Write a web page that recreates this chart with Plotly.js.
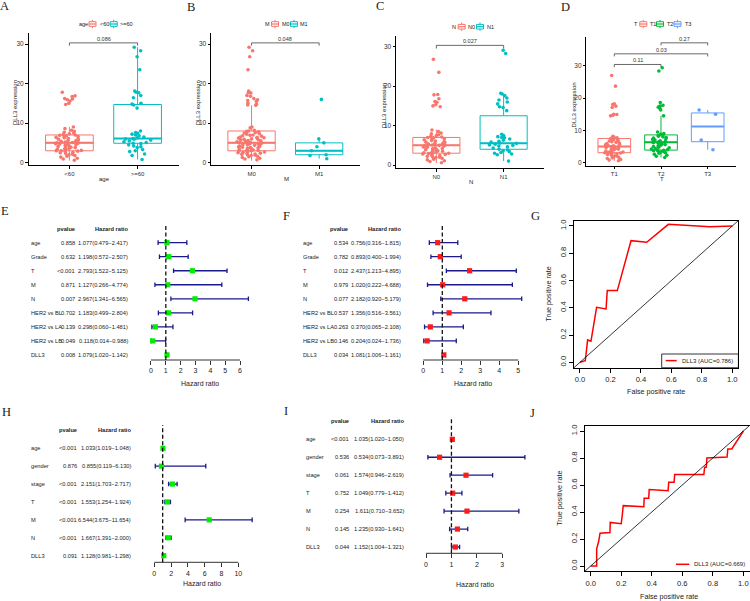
<!DOCTYPE html>
<html><head><meta charset="utf-8">
<script src="https://cdn.plot.ly/plotly-3.0.1.min.js"></script>
<style>html,body{margin:0;padding:0;background:#fff}#chart{width:750px;height:601px}</style>
</head><body><div id="chart"></div>
<script>
// ================= DATA =================
// Panel A: DLL3 expression by age
const ageCats = ['<60', '>=60'];
const ageLt60 = [16.1,15.9,16.7,16.2,17.8,16.9,15.0,15.6,14.7,
  9.0,8.6,8.2,7.9,7.7,7.5,7.3,7.1,7.0,6.9,6.8,6.6,6.5,6.4,6.3,6.1,6.0,5.9,5.8,5.6,5.5,5.4,5.2,5.1,5.0,5.0,
  4.9,4.8,4.7,4.6,4.5,4.4,4.2,4.1,4.0,3.9,3.8,3.6,3.5,3.4,3.3,3.1,3.0,3.0,2.9,2.8,2.6,2.5,2.3,2.1,2.0,1.8,1.6,1.4,1.1,0.9,0.6];
const ageGe60 = [29.2,28.3,26.8,23.5,18.1,17.8,17.7,17.0,16.4,15.0,14.8,14.6,13.8,8.0,7.6,7.4,7.2,7.0,6.8,6.5,6.3,6.1,6.0,5.9,
  5.7,5.5,5.3,5.1,4.9,4.8,4.5,4.2,4.0,3.8,3.3,3.0,2.8,2.2,1.8,0.8];
const ageQ1 = [3.0, 4.9], ageMed = [5.0, 6.1], ageQ3 = [7.0, 14.7], ageLo = [0.5, 0.8], ageHi = [9.0, 29.2];
const ageLegendTitle = 'age';
const agePval = '0.086';

// Panel B: by M
const mCats = ['M0', 'M1'];
const mM0 = [29.2,28.3,26.8,23.5,18.1,17.8,17.7,17.6,17.0,16.8,16.2,15.9,15.7,15.5,15.0,14.8,14.6,14.5,
  9.0,8.8,8.2,8.0,7.9,7.8,7.6,7.5,7.3,7.2,7.0,6.9,6.8,6.7,6.5,6.4,6.3,6.2,6.1,6.0,5.9,5.8,5.7,5.6,5.5,5.4,5.3,5.2,5.1,5.0,5.0,
  4.9,4.8,4.7,4.6,4.5,4.4,4.3,4.2,4.1,4.0,3.9,3.8,3.7,3.6,3.5,3.4,3.3,3.2,3.1,3.0,3.0,2.9,2.8,2.7,2.6,2.5,2.4,2.3,2.2,2.1,2.0,
  1.9,1.8,1.6,1.5,1.3,1.1,0.9,0.7];
const mM1 = [16.0,6.0,5.0,4.0,3.0,2.0,1.8,1.0];
const mQ1 = [3.0, 2.0], mMed = [5.0, 3.0], mQ3 = [8.0, 5.0], mLo = [0.5, 1.0], mHi = [14.5, 6.0];
const mLegendTitle = 'M';
const mPval = '0.048';

// Panel C: by N
const nCats = ['N0', 'N1'];
const nN0 = [26.8,23.5,17.9,17.8,16.8,16.1,15.9,15.3,15.0,14.8,
  8.9,8.5,8.1,7.9,7.7,7.5,7.3,7.1,7.0,6.9,6.7,6.5,6.4,6.2,6.1,6.0,5.8,5.7,5.5,5.4,5.3,5.1,5.0,5.0,4.9,4.8,4.6,4.5,4.4,
  4.2,4.1,4.0,3.9,3.7,3.6,3.5,3.4,3.2,3.1,3.0,3.0,2.9,2.8,2.7,2.5,2.4,2.2,2.1,2.0,1.9,1.7,1.5,1.3,1.1,0.9,0.6];
const nN1 = [29.1,28.3,18.2,18.0,17.6,17.0,16.5,16.0,15.5,14.8,14.6,13.8,7.8,7.5,7.2,7.0,6.9,6.6,6.3,6.0,5.8,5.6,5.5,5.3,
  5.1,5.0,4.8,4.6,4.3,4.0,3.8,3.6,3.4,3.2,3.0,2.8,2.6,1.0];
const nQ1 = [3.0, 4.0], nMed = [5.0, 5.5], nQ3 = [7.0, 12.5], nLo = [0.5, 1.0], nHi = [9.0, 18.0];
const nLegendTitle = 'N';
const nPval = '0.027';

// Panel D: by T
const tCats = ['T1', 'T2', 'T3'];
const tT1 = [27.0,23.7,18.2,18.0,17.5,17.1,15.0,14.9,14.7,14.5,
  8.2,7.9,7.7,7.5,7.3,7.1,6.9,6.7,6.5,6.3,6.1,5.9,5.7,5.5,5.3,5.2,5.0,5.0,4.9,4.7,4.5,4.3,4.2,4.0,3.8,3.6,3.5,3.3,3.2,
  3.1,3.0,2.9,2.7,2.5,2.3,2.1,1.9,1.7,1.5,1.3,1.0,0.8,0.6];
const tT2 = [29.4,28.4,18.6,17.8,17.5,17.2,16.8,16.3,14.5,
  9.5,9.0,8.8,8.6,8.4,8.2,8.0,7.8,7.6,7.4,7.2,7.0,6.8,6.6,6.4,6.3,6.2,6.0,5.8,5.6,5.4,5.2,5.0,4.8,4.6,4.4,4.2,4.0,3.9,
  3.8,3.7,3.6,3.5,3.3,3.1,2.9,2.6,2.3,2.0,1.6];
const tT3 = [16.3,15.0,7.0,4.0];
const tQ1 = [3.1, 3.9, 6.5], tMed = [5.0, 6.3, 11.2], tQ3 = [7.5, 8.6, 15.4], tLo = [0.6, 1.6, 4.0], tHi = [8.2, 14.5, 16.3];
const tLegendTitle = 'T';
const tCompFrom = [1, 1, 2], tCompTo = [2, 3, 3], tCompY = [30.4, 33.7, 37.1], tCompP = ['0.11', '0.03', '0.27'];

// Panel E: univariate Cox (green)
const eLabels = ['age','Grade','T','M','N','HER2 vs BL','HER2 vs LA','HER2 vs LB','DLL3'];
const ePvals  = ['0.858','0.632','<0.001','0.871','0.007','0.702','0.139','0.049','0.008'];
const eHR     = [1.077,1.198,2.793,1.127,2.967,1.183,0.298,0.118,1.079];
const eLow    = [0.479,0.572,1.522,0.266,1.341,0.499,0.060,0.014,1.020];
const eHigh   = [2.417,2.507,5.125,4.774,6.565,2.804,1.481,0.988,1.142];

// Panel F: multivariate Cox (red)
const fLabels = ['age','Grade','T','M','N','HER2 vs BL','HER2 vs LA','HER2 vs LB','DLL3'];
const fPvals  = ['0.534','0.782','0.012','0.979','0.077','0.537','0.263','0.146','0.034'];
const fHR     = [0.756,0.893,2.437,1.020,2.182,1.356,0.370,0.204,1.081];
const fLow    = [0.316,0.400,1.213,0.222,0.920,0.516,0.065,0.024,1.006];
const fHigh   = [1.815,1.994,4.895,4.688,5.179,3.561,2.108,1.736,1.161];

// Panel H: univariate Cox (green)
const hLabels = ['age','gender','stage','T','M','N','DLL3'];
const hPvals  = ['<0.001','0.876','<0.001','<0.001','<0.001','<0.001','0.091'];
const hHR     = [1.033,0.855,2.151,1.553,6.544,1.667,1.128];
const hLow    = [1.019,0.119,1.703,1.254,3.675,1.391,0.981];
const hHigh   = [1.048,6.130,2.717,1.924,11.654,2.000,1.298];

// Panel I: multivariate Cox (red)
const iLabels = ['age','gender','stage','T','M','N','DLL3'];
const iPvals  = ['<0.001','0.536','0.061','0.752','0.254','0.145','0.044'];
const iHR     = [1.035,0.534,1.574,1.049,1.611,1.235,1.152];
const iLow    = [1.020,0.073,0.946,0.779,0.710,0.930,1.004];
const iHigh   = [1.050,3.891,2.619,1.412,3.652,1.641,1.321];

// Panel G: ROC
const gFpr = [0.000,0.035,0.050,0.072,0.109,0.171,0.179,0.245,0.335,0.438,0.580,0.853,1.000];
const gTpr = [0.000,0.012,0.164,0.154,0.403,0.391,0.526,0.526,0.892,0.880,1.012,0.995,1.000];
const gLegend = 'DLL3 (AUC=0.786)';

// Panel J: ROC
const jFpr = [0.000,0.039,0.039,0.052,0.061,0.126,0.128,0.200,0.207,0.213,0.348,0.350,0.380,0.383,0.507,0.511,0.546,0.550,0.741,0.746,0.757,0.761,0.893,0.898,0.924,1.000];
const jTpr = [0.000,0.000,0.127,0.181,0.243,0.248,0.323,0.313,0.380,0.447,0.439,0.501,0.501,0.566,0.558,0.620,0.620,0.677,0.677,0.732,0.732,0.800,0.807,0.867,0.867,1.000];
const jLegend = 'DLL3 (AUC=0.669)';

const hazardTitle = 'Hazard ratio';
const rocX = 'False positive rate', rocY = 'True positive rate';
const boxYTitle = 'DLL3 expression';
const panelLetters = ['A','B','C','D','E','F','G','H','I','J'];

// ================= LAYOUT HELPERS =================
const W = 750, H = 601;
const FONT = 'Liberation Sans, Arial, sans-serif';
const fx = p => p / W;
const fy = p => 1 - p / H;
const hdom = (a, b) => [a / W, b / W];
const vdom = (top, bot) => [1 - bot / H, 1 - top / H];
const axKey = (l, n) => n === 1 ? l + 'axis' : l + 'axis' + n;
const axRef = (l, n) => n === 1 ? l : l + n;

const traces = [];
const layout = {
  width: W, height: H, margin: {l: 0, r: 0, t: 0, b: 0},
  paper_bgcolor: '#fff', plot_bgcolor: 'rgba(0,0,0,0)',
  showlegend: false, boxmode: 'overlay',
  font: {family: FONT, size: 6, color: '#333'},
  annotations: [], shapes: []
};

function txt(text, x, y, o) {
  layout.annotations.push(Object.assign({
    text, x, y, xref: 'paper', yref: 'paper', showarrow: false,
    font: {family: FONT, size: 6, color: '#222'}, xanchor: 'center', yanchor: 'middle', borderpad: 0
  }, o || {}));
}

// ---- box panels ----
function boxPanel(n, cfg, cats, groups, q1, med, q3, lo, hi, colors, legTitle) {
  const xa = axRef('x', n), ya = axRef('y', n);
  layout[axKey('x', n)] = {
    domain: hdom(cfg.x0, cfg.x1), range: [0.4, cats.length + 0.6], type: 'linear', anchor: ya,
    showline: true, linecolor: '#000', linewidth: 1, ticks: 'outside', ticklen: 2.5, tickcolor: '#000', tickwidth: 1,
    tickvals: cats.map((c, i) => i + 1), ticktext: cats, tickfont: {size: 6, color: '#333', family: FONT},
    showgrid: false, zeroline: false, fixedrange: true
  };
  layout[axKey('y', n)] = {
    domain: vdom(cfg.y0, cfg.y1), range: cfg.yr, anchor: xa,
    showline: true, linecolor: '#000', linewidth: 1, ticks: 'outside', ticklen: 2.5, tickcolor: '#000', tickwidth: 1,
    tickvals: [0, 10, 20, 30], tickfont: {size: 6.5, color: '#333', family: FONT},
    showgrid: false, zeroline: false, fixedrange: true
  };
  cats.forEach((c, i) => {
    const pos = i + 1;
    traces.push({type: 'box', xaxis: xa, yaxis: ya, x: [pos], q1: [q1[i]], median: [med[i]], q3: [q3[i]],
      lowerfence: [lo[i]], upperfence: [hi[i]], width: 0.7, whiskerwidth: 0, boxpoints: false,
      line: {color: colors[i], width: 1}, fillcolor: 'rgba(255,255,255,0)', hoverinfo: 'skip'});
    traces.push({type: 'box', xaxis: xa, yaxis: ya, x: [pos], q1: [med[i]], median: [med[i]], q3: [med[i]],
      lowerfence: [med[i]], upperfence: [med[i]], width: 0.7, whiskerwidth: 0, boxpoints: false,
      line: {color: colors[i], width: 2}, fillcolor: 'rgba(255,255,255,0)', hoverinfo: 'skip'});
    traces.push({type: 'box', xaxis: xa, yaxis: ya, x0: pos, y: groups[i], width: 0.7, boxpoints: 'all',
      jitter: 0.62, pointpos: 0, whiskerwidth: 0, line: {width: 0, color: 'rgba(0,0,0,0)'},
      fillcolor: 'rgba(0,0,0,0)', marker: {color: colors[i], size: 3.6, line: {width: 0}}, hoveron: 'points'});
  });
  // axis titles
  txt(boxYTitle, fx(cfg.ytx), fy((cfg.y0 + cfg.y1) / 2 + 4), {textangle: -90, font: {family: FONT, size: 6, color: '#222'}});
  txt(legTitle, fx((cfg.x0 + cfg.x1) / 2 + 1), fy(cfg.xty), {font: {family: FONT, size: 6, color: '#222'}});
  // legend (title + key icons)
  txt(legTitle, fx(cfg.leg[0]), fy(cfg.legY), {xanchor: 'left', font: {family: FONT, size: 5.5, color: '#222'}});
  cats.forEach((c, i) => {
    const cx = cfg.leg[1 + 2 * i], tx = cfg.leg[2 + 2 * i], cy = cfg.legY;
    const col = colors[i];
    layout.shapes.push({type: 'rect', xref: 'paper', yref: 'paper', x0: fx(cx - 3.5), x1: fx(cx + 3.5), y0: fy(cy + 2.3), y1: fy(cy - 2.3), line: {color: col, width: 1}});
    layout.shapes.push({type: 'line', xref: 'paper', yref: 'paper', x0: fx(cx - 3.5), x1: fx(cx + 3.5), y0: fy(cy), y1: fy(cy), line: {color: col, width: 1.2}});
    layout.shapes.push({type: 'line', xref: 'paper', yref: 'paper', x0: fx(cx), x1: fx(cx), y0: fy(cy - 4.2), y1: fy(cy - 2.3), line: {color: col, width: 1}});
    layout.shapes.push({type: 'line', xref: 'paper', yref: 'paper', x0: fx(cx), x1: fx(cx), y0: fy(cy + 2.3), y1: fy(cy + 4.2), line: {color: col, width: 1}});
    txt(c, fx(tx), fy(cy), {xanchor: 'left', font: {family: FONT, size: 5.5, color: '#222'}});
  });
}

function bracket(n, a, b, yv, label, drop) {
  const xa = axRef('x', n), ya = axRef('y', n);
  const ln = {color: '#444', width: 0.8};
  layout.shapes.push({type: 'line', xref: xa, yref: ya, x0: a, x1: b, y0: yv, y1: yv, line: ln});
  layout.shapes.push({type: 'line', xref: xa, yref: ya, x0: a, x1: a, y0: yv, y1: yv - drop, line: ln});
  layout.shapes.push({type: 'line', xref: xa, yref: ya, x0: b, x1: b, y0: yv, y1: yv - drop, line: ln});
  layout.annotations.push({text: label, xref: xa, yref: ya, x: (a + b) / 2, y: yv, yshift: 4, showarrow: false,
    xanchor: 'center', yanchor: 'middle', font: {family: FONT, size: 5.5, color: '#333'}});
}

const RED = '#F8766D', CYAN = '#00BFC4', GREEN = '#00BA38', BLUE = '#619CFF';

boxPanel(1, {x0: 28.5, x1: 178.5, y0: 33, y1: 165, yr: [-0.6, 32.8], ytx: 15, xty: 179.5, legY: 24, leg: [77.7, 92.5, 99, 113.7, 119]},
  ageCats, [ageLt60, ageGe60], ageQ1, ageMed, ageQ3, ageLo, ageHi, [RED, CYAN], ageLegendTitle);
bracket(1, 1, 2, 30.3, agePval, 0.7);

boxPanel(2, {x0: 211, x1: 359.7, y0: 33, y1: 165, yr: [-0.6, 32.8], ytx: 198.3, xty: 179.5, legY: 24, leg: [264, 275, 281, 294, 299.3]},
  mCats, [mM0, mM1], mQ1, mMed, mQ3, mLo, mHi, [RED, CYAN], mLegendTitle);
bracket(2, 1, 2, 30.3, mPval, 0.7);

boxPanel(3, {x0: 396, x1: 544, y0: 35.7, y1: 168.2, yr: [-0.8, 32.8], ytx: 384, xty: 182, legY: 26.7, leg: [451, 461.7, 467.3, 480, 485.7]},
  nCats, [nN0, nN1], nQ1, nMed, nQ3, nLo, nHi, [RED, CYAN], nLegendTitle);
bracket(3, 1, 2, 30.35, nPval, 0.8);

boxPanel(4, {x0: 586.3, x1: 735.7, y0: 36.7, y1: 165.6, yr: [-0.9, 39], ytx: 574.3, xty: 179.5, legY: 24, leg: [633.3, 643.3, 649.3, 660, 666, 677.5, 684]},
  tCats, [tT1, tT2, tT3], tQ1, tMed, tQ3, tLo, tHi, [RED, GREEN, BLUE], tLegendTitle);
tCompFrom.forEach((a, i) => bracket(4, a, tCompTo[i], tCompY[i], tCompP[i], 0.8));

// ---- forest panels ----
function forest(n, cfg, labels, pv, hr, lo, hi, color) {
  const xa = axRef('x', n), ya = axRef('y', n);
  const k = labels.length;
  const rows = labels.map((l, i) => k - i);
  const ticks = [];
  for (let t = 0; t <= cfg.tmax; t += cfg.tstep) ticks.push(t);
  layout[axKey('x', n)] = {
    domain: hdom(cfg.x0, cfg.x1), range: cfg.xr, anchor: ya, showline: false, ticks: 'outside', ticklen: 4,
    tickcolor: '#333', tickwidth: 1, tickvals: ticks, tickfont: {size: 7, color: '#222', family: FONT},
    showgrid: false, zeroline: false, fixedrange: true
  };
  layout[axKey('y', n)] = {domain: vdom(cfg.y0, cfg.y1), range: cfg.yr, anchor: xa, visible: false, fixedrange: true};
  layout.shapes.push({type: 'line', xref: xa, yref: ya + ' domain', x0: 0, x1: cfg.tmax, y0: 0, y1: 0, line: {color: '#333', width: 1}});
  layout.shapes.push({type: 'line', xref: xa, yref: ya + ' domain', x0: 1, x1: 1, y0: 0, y1: 1, line: {color: '#111', width: 1.3, dash: '4px,2.5px'}});
  traces.push({type: 'scatter', mode: 'markers', xaxis: xa, yaxis: ya, x: hr, y: rows, cliponaxis: false,
    marker: {symbol: 'square', size: 5.2, color: color, line: {width: 0}},
    error_x: {type: 'data', symmetric: false, array: hr.map((v, i) => hi[i] - v), arrayminus: hr.map((v, i) => v - lo[i]),
      color: '#1a1a8c', thickness: 1.3, width: 2.3}, hoverinfo: 'skip'});
  const f = {family: FONT, size: 5.7, color: '#222'};
  labels.forEach((l, i) => {
    layout.annotations.push({text: l, xref: 'paper', yref: ya, x: fx(cfg.lx), y: rows[i], xanchor: 'left', yanchor: 'middle', showarrow: false, font: f});
    layout.annotations.push({text: pv[i], xref: 'paper', yref: ya, x: fx(cfg.px), y: rows[i], xanchor: 'right', yanchor: 'middle', showarrow: false, font: f});
    layout.annotations.push({text: hr[i].toFixed(3) + '(' + lo[i].toFixed(3) + '\u2212' + hi[i].toFixed(3) + ')', xref: 'paper', yref: ya,
      x: fx(cfg.hx), y: rows[i], xanchor: 'right', yanchor: 'middle', showarrow: false, font: f});
  });
  const fb = {family: FONT, size: 5.7, color: '#222'};
  layout.annotations.push({text: '<b>pvalue</b>', xref: 'paper', yref: ya, x: fx(cfg.px), y: k + 1, xanchor: 'right', yanchor: 'middle', showarrow: false, font: fb});
  layout.annotations.push({text: '<b>Hazard ratio</b>', xref: 'paper', yref: ya, x: fx(cfg.hx), y: k + 1, xanchor: 'right', yanchor: 'middle', showarrow: false, font: fb});
  txt(hazardTitle, fx(cfg.tcx), fy(cfg.tcy), {font: {family: FONT, size: 7, color: '#222'}});
}

forest(5, {x0: 144.3, x1: 250.4, xr: [-0.45, 6.7], y0: 224, y1: 360, yr: [0.64, 10.33], tmax: 6, tstep: 1,
  lx: 29.3, px: 77.3, hx: 130, tcx: 200, tcy: 383.3}, eLabels, ePvals, eHR, eLow, eHigh, '#00ee00');
forest(6, {x0: 415.7, x1: 529.7, xr: [-0.4, 5.6], y0: 224, y1: 360, yr: [0.64, 10.33], tmax: 5, tstep: 1,
  lx: 301, px: 350, hx: 403.3, tcx: 473.3, tcy: 383.3}, fLabels, fPvals, fHR, fLow, fHigh, '#ff1a1a');
forest(8, {x0: 148.4, x1: 253.4, xr: [-0.7, 11.8], y0: 425, y1: 562.3, yr: [0.63, 8.3], tmax: 10, tstep: 2,
  lx: 29.3, px: 79.3, hx: 133.3, tcx: 202, tcy: 583.3}, hLabels, hPvals, hHR, hLow, hHigh, '#00ee00');
forest(9, {x0: 418.4, x1: 527.7, xr: [-0.3, 4.0], y0: 416.7, y1: 553.3, yr: [0.65, 8.26], tmax: 3, tstep: 1,
  lx: 304.3, px: 351, hx: 405.7, tcx: 475, tcy: 584.3}, iLabels, iPvals, iHR, iLow, iHigh, '#ff1a1a');

// ---- ROC panels ----
function roc(n, cfg, fpr, tpr, legText) {
  const xa = axRef('x', n), ya = axRef('y', n);
  const common = {showline: true, mirror: true, linecolor: '#000', linewidth: 1, ticks: 'outside', ticklen: 4,
    tickcolor: '#000', tickwidth: 1, tickvals: [0, 0.2, 0.4, 0.6, 0.8, 1], tickformat: '.1f',
    tickfont: {size: 7.6, color: '#222', family: FONT}, showgrid: false, zeroline: false, fixedrange: true, range: [-0.04, 1.04]};
  layout[axKey('x', n)] = Object.assign({domain: hdom(cfg.x0, cfg.x1), anchor: ya}, common);
  layout[axKey('y', n)] = Object.assign({domain: vdom(cfg.y0, cfg.y1), anchor: xa, tickangle: -90}, common);
  layout.shapes.push({type: 'line', xref: xa + ' domain', yref: ya + ' domain', x0: 0, y0: 0, x1: 1, y1: 1, line: {color: '#000', width: 0.8}});
  traces.push({type: 'scatter', mode: 'lines', xaxis: xa, yaxis: ya, x: fpr, y: tpr, line: {color: '#ff0000', width: 1.5}, hoverinfo: 'skip'});
  txt(rocY, fx(cfg.ytx), fy((cfg.y0 + cfg.y1) / 2), {textangle: -90, font: {family: FONT, size: 7.2, color: '#222'}});
  txt(rocX, fx(cfg.xtx), fy(cfg.xty), {font: {family: FONT, size: 7.2, color: '#222'}});
  if (cfg.box) layout.shapes.push({type: 'rect', xref: 'paper', yref: 'paper', x0: fx(cfg.box[0]), x1: fx(cfg.box[1]), y0: fy(cfg.box[3]), y1: fy(cfg.box[2]), line: {color: '#000', width: 0.8}});
  layout.shapes.push({type: 'line', xref: 'paper', yref: 'paper', x0: fx(cfg.lg[0]), x1: fx(cfg.lg[1]), y0: fy(cfg.lg[2]), y1: fy(cfg.lg[2]), line: {color: '#ff0000', width: 1.5}});
  txt(legText, fx(cfg.lg[3]), fy(cfg.lg[2]), {xanchor: 'left', font: {family: FONT, size: 6, color: '#222'}});
}
roc(7, {x0: 573.9, x1: 738.4, y0: 220.5, y1: 367.75, ytx: 548.3, xtx: 656, xty: 391, box: [661.7, 738.4, 354, 367.75], lg: [665.7, 676.7, 360.6, 680.5]}, gFpr, gTpr, gLegend);
roc(10, {x0: 584.6, x1: 749.5, y0: 425.6, y1: 571.4, ytx: 559.3, xtx: 669.3, xty: 596.5, box: null, lg: [676, 689.3, 564.3, 692.7]}, jFpr, jTpr, jLegend);

// ---- panel letters ----
const letterPos = [[4.5, 6.5], [190.5, 7], [380, 6.5], [565.5, 7], [5, 210.5], [286.7, 216], [535.7, 216], [6.5, 412.5], [285.5, 411.5], [532.5, 413]];
panelLetters.forEach((L, i) => txt(L, fx(letterPos[i][0]), fy(letterPos[i][1]), {font: {family: 'Liberation Serif, Times New Roman, serif', size: 12.5, color: '#222'}}));

Plotly.newPlot('chart', traces, layout, {staticPlot: true, displayModeBar: false});
</script>
</body></html>
